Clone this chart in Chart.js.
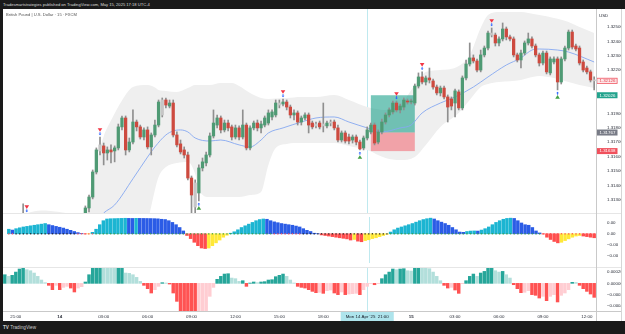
<!DOCTYPE html>
<html><head><meta charset="utf-8">
<script src="https://cdn.jsdelivr.net/npm/chart.js@4.4.1/dist/chart.umd.min.js"></script>
<style>
html,body{margin:0;padding:0;background:#fff;}
#wrap{position:relative;width:625px;height:334px;overflow:hidden;background:#fff;font-family:"Liberation Sans",Arial,sans-serif;}
.abs{position:absolute;white-space:nowrap;}
canvas{position:absolute;}
</style></head><body>
<div id="wrap">
 <canvas id="c1" width="618" height="204" style="left:3px;top:9px"></canvas>
 <canvas id="c2" width="618" height="54" style="left:3px;top:213px"></canvas>
 <canvas id="c3" width="618" height="54" style="left:3px;top:267px"></canvas>
 <div class="abs" style="left:0;top:0;width:625px;height:9px;background:#1a1a1a;"></div>
 <div class="abs" style="left:3px;top:0;height:9px;line-height:9px;font-size:4.1px;color:#dedede;">Tradesmartstrategies published on TradingView.com, May 15, 2025 17:18 UTC-4</div>
 <div class="abs" style="left:0;top:9px;width:3px;height:312px;background:#1a1a1a;"></div>
 <div class="abs" style="left:0;top:321px;width:625px;height:13px;background:#1a1a1a;"></div>
 <div class="abs" style="left:3px;top:325px;height:6px;line-height:6px;font-size:4.7px;color:#cfcfcf;"><b>TV</b> TradingView</div>
 <div class="abs" style="left:6px;top:12px;height:5px;line-height:5px;font-size:4.1px;color:#555;">British Pound | U.S. Dollar · 15 · FXCM</div>
 <div class="abs" style="left:599px;top:12.5px;height:5px;line-height:5px;font-size:4.4px;color:#2a2e39;">USD</div>
 <div class="abs" style="left:3px;top:213px;width:618px;height:1px;background:#e6e6e6;"></div>
 <div class="abs" style="left:3px;top:267px;width:618px;height:1px;background:#e6e6e6;"></div>
 <div class="abs" style="left:3px;top:311px;width:618px;height:1px;background:#c9c9c9;"></div>
 <div class="abs" style="left:596px;top:9px;width:1px;height:312px;background:#c9c9c9;"></div>
 <div class="abs" style="left:621px;top:9px;width:1px;height:312px;background:#d6d6d6;"></div>
</div>
<script>
// ---------- DATA ----------
const candleCount = 162;
const timeTickIdx = [3,15,27,39,51,63,75,87,111,123,135,147,159];
const timeTickLabels = ['21:00','14','03:00','06:00','09:00','12:00','15:00','18:00','15','03:00','06:00','09:00','12:00'];
const crosshairIdx = 99;
const crosshairLabel = "Mon 14 Apr '25  21:00";
const priceTicks = [1.325,1.324,1.323,1.322,1.321,1.320,1.319,1.318,1.317,1.316,1.315,1.314,1.313];
const pane2Ticks = [0.002,0,-0.002,-0.004];
const pane3Ticks = [0.0002,0,-0.0002,-0.0004];

const open = [1.31090,1.31105,1.31095,1.31120,1.31135,1.31160,1.31190,1.31150,1.31120,1.31100,
1.31080,1.31095,1.31070,1.31040,1.31050,1.31030,1.31045,1.31060,1.31080,1.31095,
1.31120,1.31150,1.31190,1.31243,1.31319,1.31493,1.31639,1.31674,1.31625,1.31646,
1.31639,1.31660,1.31806,1.31868,1.31646,1.31701,1.31840,1.31806,1.31736,1.31785,
1.31667,1.31750,1.31819,1.31889,1.31993,1.31951,1.31972,1.31750,1.31688,1.31646,
1.31611,1.31451,1.31417,1.31347,1.31521,1.31556,1.31611,1.31743,1.31819,1.31868,
1.31785,1.31833,1.31806,1.31736,1.31799,1.31736,1.31819,1.31660,1.31799,1.31833,
1.31799,1.31819,1.31833,1.31875,1.31889,1.31972,1.31965,1.31979,1.31944,1.31889,
1.31903,1.31840,1.31868,1.31889,1.31833,1.31813,1.31833,1.31813,1.31813,1.31833,
1.31840,1.31799,1.31715,1.31764,1.31736,1.31715,1.31736,1.31701,1.31660,1.31729,
1.31771,1.31819,1.31701,1.31771,1.31840,1.31889,1.31910,1.31972,1.31924,1.31944,
1.31986,1.31979,1.31972,1.32090,1.32153,1.32118,1.32146,1.32125,1.32083,1.32042,
1.32076,1.32014,1.32000,1.31972,1.32049,1.31938,1.32146,1.32243,1.32285,1.32264,
1.32201,1.32306,1.32354,1.32458,1.32444,1.32389,1.32417,1.32486,1.32431,1.32417,
1.32306,1.32271,1.32319,1.32389,1.32417,1.32368,1.32306,1.32250,1.32319,1.32181,
1.32257,1.32278,1.32118,1.32278,1.32354,1.32465,1.32368,1.32354,1.32257,1.32215,
1.32188,1.32132];
const high = [1.31120,1.31118,1.31130,1.31150,1.31170,1.31271,1.31200,1.31170,1.31140,1.31125,
1.31110,1.31115,1.31090,1.31070,1.31080,1.31060,1.31070,1.31090,1.31110,1.31130,
1.31160,1.31190,1.31257,1.31333,1.31507,1.31660,1.31736,1.31694,1.31667,1.31681,
1.31674,1.31826,1.31882,1.31882,1.31729,1.31924,1.31854,1.31819,1.31799,1.31806,
1.31764,1.31854,1.31993,1.32007,1.32007,1.31993,1.31993,1.31771,1.31715,1.31667,
1.31632,1.31465,1.31438,1.31542,1.31590,1.31632,1.31764,1.31924,1.31889,1.31882,
1.31854,1.31854,1.31819,1.31819,1.31813,1.31924,1.31833,1.31813,1.31847,1.31854,
1.31847,1.31882,1.31924,1.31924,1.31993,1.31993,1.32000,1.31993,1.31958,1.31924,
1.31917,1.31882,1.31903,1.31903,1.31847,1.31840,1.31847,1.31972,1.31847,1.31854,
1.31854,1.31819,1.31778,1.31778,1.31757,1.31750,1.31750,1.31715,1.31743,1.31806,
1.31833,1.31833,1.31785,1.31861,1.31903,1.31938,1.31986,1.31986,1.31965,1.32007,
1.32000,1.32000,1.32104,1.32181,1.32188,1.32160,1.32215,1.32139,1.32097,1.32090,
1.32090,1.32028,1.32014,1.32069,1.32063,1.32160,1.32271,1.32389,1.32306,1.32278,
1.32340,1.32368,1.32472,1.32493,1.32458,1.32431,1.32528,1.32500,1.32444,1.32431,
1.32319,1.32340,1.32403,1.32458,1.32431,1.32382,1.32319,1.32333,1.32333,1.32292,
1.32292,1.32292,1.32292,1.32368,1.32479,1.32479,1.32382,1.32368,1.32271,1.32229,
1.32201,1.32153];
const low = [1.31070,1.31080,1.31090,1.31100,1.31120,1.31140,1.31130,1.31100,1.31080,1.31060,
1.31050,1.31060,1.31020,1.31010,1.31020,1.31000,1.31020,1.31040,1.31060,1.31080,
1.31100,1.31130,1.31180,1.31215,1.31306,1.31479,1.31611,1.31542,1.31576,1.31556,
1.31563,1.31646,1.31785,1.31611,1.31632,1.31688,1.31778,1.31722,1.31715,1.31653,
1.31611,1.31736,1.31806,1.31875,1.31938,1.31938,1.31736,1.31667,1.31618,1.31590,
1.31438,1.31187,1.31200,1.31292,1.31500,1.31535,1.31597,1.31729,1.31799,1.31764,
1.31771,1.31778,1.31715,1.31722,1.31715,1.31722,1.31646,1.31646,1.31785,1.31778,
1.31764,1.31806,1.31819,1.31854,1.31875,1.31938,1.31951,1.31924,1.31868,1.31854,
1.31819,1.31819,1.31854,1.31764,1.31792,1.31799,1.31792,1.31771,1.31799,1.31813,
1.31785,1.31701,1.31701,1.31694,1.31688,1.31694,1.31681,1.31646,1.31646,1.31715,
1.31757,1.31681,1.31688,1.31757,1.31826,1.31875,1.31896,1.31910,1.31903,1.31924,
1.31965,1.31965,1.31958,1.32076,1.32104,1.32097,1.32111,1.32069,1.32028,1.32021,
1.32000,1.31840,1.31924,1.31875,1.31924,1.31924,1.32132,1.32229,1.32250,1.32188,
1.32188,1.32292,1.32340,1.32431,1.32368,1.32368,1.32403,1.32410,1.32403,1.32292,
1.32257,1.32215,1.32306,1.32375,1.32354,1.32292,1.32229,1.32236,1.32174,1.32167,
1.32243,1.32063,1.32104,1.32264,1.32340,1.32347,1.32333,1.32236,1.32188,1.32174,
1.32118,1.32063];
const close = [1.31105,1.31095,1.31120,1.31135,1.31160,1.31190,1.31150,1.31120,1.31100,1.31080,
1.31095,1.31070,1.31040,1.31050,1.31030,1.31045,1.31060,1.31080,1.31095,1.31120,
1.31150,1.31180,1.31243,1.31319,1.31493,1.31646,1.31681,1.31625,1.31646,1.31632,
1.31660,1.31806,1.31868,1.31646,1.31701,1.31840,1.31806,1.31736,1.31785,1.31667,
1.31750,1.31819,1.31979,1.31993,1.31958,1.31972,1.31750,1.31681,1.31632,1.31611,
1.31451,1.31333,1.31250,1.31521,1.31563,1.31611,1.31743,1.31833,1.31868,1.31785,
1.31833,1.31799,1.31736,1.31799,1.31736,1.31819,1.31660,1.31799,1.31833,1.31799,
1.31826,1.31868,1.31903,1.31910,1.31972,1.31958,1.31979,1.31944,1.31889,1.31903,
1.31840,1.31868,1.31889,1.31819,1.31806,1.31826,1.31806,1.31826,1.31833,1.31840,
1.31799,1.31715,1.31764,1.31708,1.31708,1.31736,1.31701,1.31653,1.31729,1.31785,
1.31819,1.31694,1.31771,1.31840,1.31889,1.31924,1.31972,1.31924,1.31951,1.31993,
1.31979,1.31986,1.32090,1.32153,1.32118,1.32146,1.32132,1.32083,1.32042,1.32076,
1.32014,1.31944,1.31951,1.32056,1.31938,1.32146,1.32243,1.32285,1.32264,1.32201,
1.32306,1.32354,1.32458,1.32444,1.32389,1.32417,1.32486,1.32431,1.32417,1.32306,
1.32271,1.32319,1.32389,1.32417,1.32368,1.32306,1.32250,1.32319,1.32188,1.32278,
1.32278,1.32118,1.32278,1.32354,1.32465,1.32361,1.32347,1.32250,1.32201,1.32188,
1.32132,1.32126];
const neutralCandles = [5,26,43,52,75,85,87,89,133,161];

const bandIdx = [0,5,10,15,20,22,24,27,29,32,35,39,41,42,44,47,50,52,53,56,59,62,64,67,70,72,74,77,81,85,90,94,99,104,108,112,115,119,124,127,130,132,135,141,143,146,150,154,157,161];
const bandUpper = [1.31170,1.31200,1.31225,1.31215,1.31195,1.31215,1.31450,1.31740,1.31850,1.31990,
1.32083,1.32097,1.32080,1.32063,1.32056,1.32049,1.32076,1.32097,1.32097,1.32097,
1.32111,1.32111,1.32090,1.32042,1.32007,1.32000,1.32003,1.32007,1.32014,1.32014,
1.32028,1.31993,1.31944,1.31924,1.31958,1.32097,1.32188,1.32201,1.32229,1.32306,
1.32493,1.32583,1.32604,1.32604,1.32597,1.32583,1.32563,1.32535,1.32500,1.32458];
const bandLower = [1.30850,1.30870,1.30900,1.30920,1.30900,1.30880,1.30860,1.30850,1.30860,1.30880,
1.30920,1.31150,1.31368,1.31458,1.31528,1.31556,1.31563,1.31480,1.31368,1.31319,
1.31319,1.31319,1.31319,1.31333,1.31354,1.31542,1.31660,1.31688,1.31694,1.31694,
1.31694,1.31674,1.31646,1.31590,1.31576,1.31597,1.31680,1.31806,1.31903,1.31993,
1.32083,1.32104,1.32118,1.32132,1.32146,1.32160,1.32146,1.32118,1.32097,1.32076];
const maIdx = [0,10,20,24,27,30,35,39,41,44,46,48,50,52,56,59,64,67,70,72,76,81,85,90,94,99,103,108,111,114,119,123,128,132,137,141,144,146,151,154,161];
const maVal = [1.31050,1.31060,1.31080,1.31120,1.31208,1.31264,1.31446,1.31597,1.31667,1.31750,
1.31778,1.31785,1.31771,1.31729,1.31708,1.31715,1.31681,1.31667,1.31715,1.31764,
1.31799,1.31840,1.31868,1.31875,1.31840,1.31799,1.31771,1.31799,1.31819,1.31903,
1.31972,1.32014,1.32083,1.32153,1.32236,1.32285,1.32340,1.32347,1.32340,1.32326,1.32257];

const sellSignals = [6,26,76,107,114,133];
const buySignals = [53,97,151];
const positionStart = 100, positionEnd = 112;
const positionTarget = 1.32026, positionEntry = 1.31767, positionStop = 1.31638;

const squeeze = [0.00082,0.00067,0.00092,0.00108,0.00123,0.00133,0.00144,0.00154,0.00164,0.00174,
0.00185,0.00164,0.00149,0.00133,0.00118,0.00103,0.00082,0.00062,0.00041,0.00021,
0.00005,-0.00003,-0.00002,0.00026,0.00082,0.00164,0.00236,0.00267,0.00272,0.00274,
0.00276,0.00278,0.00280,0.00278,0.00277,0.00279,0.00278,0.00277,0.00276,0.00275,
0.00273,0.00270,0.00262,0.00257,0.00236,0.00205,0.00164,0.00113,0.00051,-0.00031,
-0.00087,-0.00154,-0.00215,-0.00257,-0.00267,-0.00257,-0.00215,-0.00164,-0.00113,-0.00062,
-0.00026,0.00010,0.00036,0.00072,0.00113,0.00144,0.00174,0.00205,0.00236,0.00257,
0.00267,0.00262,0.00236,0.00215,0.00200,0.00185,0.00174,0.00164,0.00154,0.00139,
0.00123,0.00092,0.00062,0.00041,0.00010,0.00002,-0.00021,-0.00031,-0.00041,-0.00051,
-0.00062,-0.00072,-0.00082,-0.00092,-0.00113,-0.00103,-0.00133,-0.00144,-0.00123,-0.00108,
-0.00087,-0.00072,-0.00051,-0.00031,-0.00010,0.00031,0.00072,0.00103,0.00123,0.00144,
0.00164,0.00185,0.00210,0.00236,0.00257,0.00272,0.00282,0.00267,0.00236,0.00210,
0.00185,0.00154,0.00113,0.00072,0.00031,0.00026,0.00041,0.00049,0.00051,0.00049,
0.00067,0.00092,0.00123,0.00164,0.00205,0.00236,0.00262,0.00277,0.00282,0.00277,
0.00236,0.00195,0.00164,0.00154,0.00113,0.00051,0.00015,-0.00005,-0.00062,-0.00103,
-0.00139,-0.00164,-0.00154,-0.00123,-0.00092,-0.00062,-0.00041,-0.00031,-0.00041,-0.00051,
-0.00062,-0.00072];
const squeezeState = 'rr'+'k'.repeat(17)+'r'.repeat(5)+'g'.repeat(49)+'r'.repeat(8)+'k'.repeat(24)+'g'.repeat(42)+'r'.repeat(15);

const osc = [0.000153,0.000124,0.000142,0.000200,0.000254,0.000283,0.000242,0.000224,0.000183,0.000124,
0.000059,0.000012,-0.000035,-0.000112,-0.000035,-0.000112,-0.000071,-0.000053,-0.000083,-0.000153,
-0.000083,-0.000059,0.000024,0.000153,0.000283,0.000289,0.000295,0.000283,0.000280,0.000277,
0.000274,0.000283,0.000289,0.000183,0.000177,0.000153,0.000106,0.000035,-0.000035,-0.000094,
-0.000171,-0.000112,-0.000053,0.000012,0.000006,-0.000012,-0.000171,-0.000319,-0.00055,-0.00062,
-0.00068,-0.00072,-0.00075,-0.00070,-0.00062,-0.00052,-0.00023,-0.000071,0.000071,0.000124,
0.000165,0.000171,0.000094,0.000083,0.000035,0.000047,-0.000053,0.000006,0.000024,0.000012,
0.000024,0.000030,0.000059,0.000065,0.000118,0.000142,0.000165,0.000124,0.000059,0.000006,
-0.000053,-0.000071,-0.000083,-0.000112,-0.000142,-0.000165,-0.000159,-0.000177,-0.000130,-0.000118,
-0.000171,-0.000200,-0.000153,-0.000200,-0.000189,-0.000183,-0.000177,-0.000200,-0.000112,-0.000053,
-0.000003,-0.000024,-0.000006,0.000083,0.000153,0.000200,0.000254,0.000242,0.000254,0.000260,
0.000224,0.000218,0.000283,0.000289,0.000283,0.000271,0.000260,0.000200,0.000124,0.000047,
-0.000035,-0.000083,-0.000071,-0.000118,-0.000177,-0.000006,0.000047,0.000124,0.000165,0.000124,
0.000183,0.000212,0.000271,0.000277,0.000224,0.000200,0.000212,0.000153,0.000094,-0.000024,
-0.000094,-0.000165,-0.000159,-0.000130,-0.000200,-0.000212,-0.000260,-0.000230,-0.000307,-0.000230,
-0.000200,-0.000330,-0.000212,-0.000171,-0.000112,0.000018,0.000015,-0.000035,-0.000094,-0.000142,
-0.000189,-0.000248];

// ---------- STYLE ----------
const FONT = '"Liberation Sans", Arial, sans-serif';
const AXIS_TXT = '#2a2e39';
const UP='#4f9a74', DOWN='#cd4a3f', NEUTRAL='#c6c6c6', WICK='#8f8f8f';
const CYAN='#1cb5d2', BLUE='#2b5ce6', SQ_RED='#ff4d4d', YELLOW='#ffe838';
const T_DARK='#26a69a', T_LIGHT='#b2dfdb', O_RED='#ff5252', O_PINK='#ffcdd2';
const XHAIR='#bfe9ef';

const bodyColors = open.map((o,i)=> neutralCandles.includes(i) ? NEUTRAL : (close[i]>=o?UP:DOWN));
const sqColors = squeeze.map((v,i)=>{const p=i?squeeze[i-1]:0; return v>=0?(v>p?CYAN:BLUE):(v<p?SQ_RED:YELLOW);});
const dotColors = squeezeState.split('').map(c=>c==='k'?'#2a2a2a':(c==='g'?'#43a047':'#ff5252'));
const oscColors = osc.map((v,i)=>{const p=i?osc[i-1]:0; return v>=0?(v>p?T_DARK:T_LIGHT):(v<p?O_RED:O_PINK);});

const xScale = (show)=>({type:'linear',min:-0.5,max:candleCount-0.5,offset:false,display:show,grid:{display:false},border:{display:false}});
function fixY(s){ s.width=25; s.paddingTop=0; s.paddingBottom=0; }
const near = (v, arr, tol)=>arr.some(a=>Math.abs(a-v)<tol);
const minus = s=>s.replace('-','\u2212');

const crosshairPlugin = {id:'xhair', beforeDatasetsDraw(chart){
  const {ctx, chartArea:a, scales:{x}} = chart; const px = Math.round(x.getPixelForValue(crosshairIdx))+0.5;
  ctx.save(); ctx.strokeStyle=XHAIR; ctx.lineWidth=1; ctx.beginPath(); ctx.moveTo(px,a.top); ctx.lineTo(px,a.bottom); ctx.stroke(); ctx.restore();
}};

const boxes = [
  {v: close[candleCount-1], bg:'#fde6e8', border:'#f05a66', fg:'#e53945'},
  {v: positionTarget, bg:'#22a38d', fg:'#ffffff'},
  {v: positionEntry, bg:'#787b86', fg:'#ffffff'},
  {v: positionStop, bg:'#f0505c', fg:'#ffffff'}
];

const mainPlugin = {id:'mainOverlay',
  afterDatasetDraw(chart, args){
    if(args.index!==0) return;
    const {ctx, chartArea:a, scales:{x,y}} = chart;
    const x0=x.getPixelForValue(positionStart), x1=x.getPixelForValue(positionEnd);
    const yT=y.getPixelForValue(positionTarget), yE=y.getPixelForValue(positionEntry), yS=y.getPixelForValue(positionStop);
    ctx.save();
    ctx.fillStyle='rgba(8,153,129,0.55)'; ctx.fillRect(x0,yT,x1-x0,yE-yT);
    ctx.fillStyle='rgba(242,54,69,0.42)'; ctx.fillRect(x0,yE,x1-x0,yS-yE);
    ctx.restore();
  },
  afterDatasetsDraw(chart){
    const {ctx, chartArea:a, scales:{x,y}} = chart;
    ctx.save(); ctx.beginPath(); ctx.rect(a.left,a.top,a.right-a.left,a.bottom-a.top); ctx.clip();
    const tri=(cx,cy,down,col)=>{ctx.fillStyle=col;ctx.beginPath();
      if(down){ctx.moveTo(cx-2.3,cy-1.8);ctx.lineTo(cx+2.3,cy-1.8);ctx.lineTo(cx,cy+1.8);}
      else{ctx.moveTo(cx-2.3,cy+1.8);ctx.lineTo(cx+2.3,cy+1.8);ctx.lineTo(cx,cy-1.8);}
      ctx.closePath();ctx.fill();};
    const arrow=(cx,cy,down)=>{ctx.fillStyle='#2962ff';ctx.beginPath();
      if(down){ctx.fillRect(cx-0.5,cy-1.8,1,1.6);ctx.moveTo(cx-1.4,cy-0.3);ctx.lineTo(cx+1.4,cy-0.3);ctx.lineTo(cx,cy+1.2);}
      else{ctx.fillRect(cx-0.5,cy+0.2,1,1.6);ctx.moveTo(cx-1.4,cy+0.3);ctx.lineTo(cx+1.4,cy+0.3);ctx.lineTo(cx,cy-1.2);}
      ctx.closePath();ctx.fill();};
    sellSignals.forEach(i=>{const px=x.getPixelForValue(i), py=y.getPixelForValue(high[i]); arrow(px,py-3,true); tri(px,py-7,true,'#f23645');});
    buySignals.forEach(i=>{const px=x.getPixelForValue(i), py=y.getPixelForValue(low[i]); arrow(px,py+3,false); tri(px,py+7,false,'#43a047');});
    ctx.restore();
  },
  afterDraw(chart){
    const {ctx, chartArea:a, scales:{y}} = chart;
    ctx.save(); ctx.font='4.4px '+FONT; ctx.textBaseline='middle';
    boxes.forEach(b=>{const py=y.getPixelForValue(b.v); const bx=a.right+0.5, bw=21, bh=6;
      ctx.fillStyle=b.bg; ctx.fillRect(bx,py-bh/2,bw,bh);
      if(b.border){ctx.strokeStyle=b.border;ctx.lineWidth=0.8;ctx.strokeRect(bx+0.4,py-bh/2+0.4,bw-0.8,bh-0.8);}
      ctx.fillStyle=b.fg; ctx.fillText(b.v.toFixed(5),bx+3,py+0.2);});
    ctx.restore();
  }
};

Chart.defaults.font.family = FONT;
const baseOpts = {responsive:false, animation:false, devicePixelRatio:1, events:[],
  layout:{padding:0}, plugins:{legend:{display:false}, tooltip:{enabled:false}}};

// ---------- MAIN PANE ----------
new Chart(document.getElementById('c1'), {
  type:'bar',
  data:{datasets:[
    {type:'line', data:bandIdx.map((k,j)=>({x:k,y:bandUpper[j]})), borderColor:'rgba(0,0,0,0)', borderWidth:1, pointRadius:0, fill:'+1', backgroundColor:'#efefef', cubicInterpolationMode:'monotone', order:5, clip:0},
    {type:'line', data:bandIdx.map((k,j)=>({x:k,y:bandLower[j]})), borderColor:'rgba(0,0,0,0)', borderWidth:1, pointRadius:0, fill:false, cubicInterpolationMode:'monotone', order:5, clip:0},
    {type:'line', data:maIdx.map((k,j)=>({x:k,y:maVal[j]})), borderColor:'#86a8f0', borderWidth:0.9, pointRadius:0, fill:false, cubicInterpolationMode:'monotone', order:3, clip:0},
    {type:'bar', data:open.map((o,i)=>({x:i,y:[low[i],high[i]]})), backgroundColor:WICK, barThickness:1, grouped:false, order:2, clip:0},
    {type:'bar', data:open.map((o,i)=>({x:i,y:[o,close[i]]})), backgroundColor:bodyColors, barThickness:2.6, minBarLength:1, grouped:false, order:1, clip:0}
  ]},
  options:{...baseOpts,
    scales:{
      x:xScale(false),
      y:{position:'right', min:1.31208, max:1.32625, grid:{display:false}, border:{display:false},
         afterBuildTicks:s=>{s.ticks=priceTicks.map(v=>({value:v}));},
         afterFit:fixY,
         ticks:{padding:3, color:AXIS_TXT, font:{size:4.4}, callback:v=>near(v,boxes.map(b=>b.v),0.0003)?'':v.toFixed(5)}}
    }},
  plugins:[crosshairPlugin, mainPlugin]
});

// ---------- SQUEEZE PANE ----------
new Chart(document.getElementById('c2'), {
  type:'bar',
  data:{datasets:[
    {type:'line', data:squeeze.map((v,i)=>({x:i,y:0})), showLine:false, pointStyle:'rect', pointRadius:0.9, pointBorderWidth:0, pointBackgroundColor:dotColors, order:0, clip:0},
    {type:'bar', data:squeeze.map((v,i)=>({x:i,y:v})), backgroundColor:sqColors, barThickness:2.8, grouped:false, order:1, clip:0}
  ]},
  options:{...baseOpts,
    scales:{
      x:xScale(false),
      y:{position:'right', min:-0.00528, max:0.00303, grid:{display:false}, border:{display:false},
         afterBuildTicks:s=>{s.ticks=pane2Ticks.map(v=>({value:v}));},
         afterFit:fixY,
         ticks:{padding:3, color:AXIS_TXT, font:{size:4.4}, callback:v=>minus(v.toFixed(2))}}
    }},
  plugins:[crosshairPlugin]
});

// ---------- OSCILLATOR PANE + TIME AXIS ----------
// time-axis labels placed through the x scale of this chart
const timeAxisPlugin = {id:'timeAxis', afterDraw(chart){
  const {ctx, chartArea:a, scales:{x}} = chart;
  const midY = a.bottom + (chart.height - a.bottom)/2 + 0.6;
  ctx.save(); ctx.textAlign='center'; ctx.textBaseline='middle'; ctx.fillStyle=AXIS_TXT;
  timeTickIdx.forEach((idx,k)=>{
    const lab = timeTickLabels[k];
    ctx.font = (/^\d+$/.test(lab)?'bold ':'')+'4.4px '+FONT;
    ctx.fillText(lab, x.getPixelForValue(idx), midY);
  });
  ctx.font='4.4px '+FONT;
  const px=x.getPixelForValue(crosshairIdx); const w=ctx.measureText(crosshairLabel).width+10;
  ctx.fillStyle='#aee4ec'; ctx.fillRect(px-w/2, a.bottom+1, w, chart.height-a.bottom-1);
  ctx.fillStyle='#131722'; ctx.fillText(crosshairLabel, px, midY);
  ctx.restore();
}};
new Chart(document.getElementById('c3'), {
  type:'bar',
  data:{datasets:[
    {type:'bar', data:osc.map((v,i)=>({x:i,y:v})), backgroundColor:oscColors, barThickness:2.8, grouped:false, clip:0}
  ]},
  options:{...baseOpts,
    layout:{padding:{bottom:10}},
    scales:{
      x:xScale(false),
      y:{position:'right', min:-0.00049, max:0.00029, grid:{display:false}, border:{display:false},
         afterBuildTicks:s=>{s.ticks=pane3Ticks.map(v=>({value:v}));},
         afterFit:fixY,
         ticks:{padding:3, color:AXIS_TXT, font:{size:4.4}, callback:v=>minus(v.toFixed(5))}}
    }},
  plugins:[crosshairPlugin, timeAxisPlugin]
});
</script>
</body></html>
